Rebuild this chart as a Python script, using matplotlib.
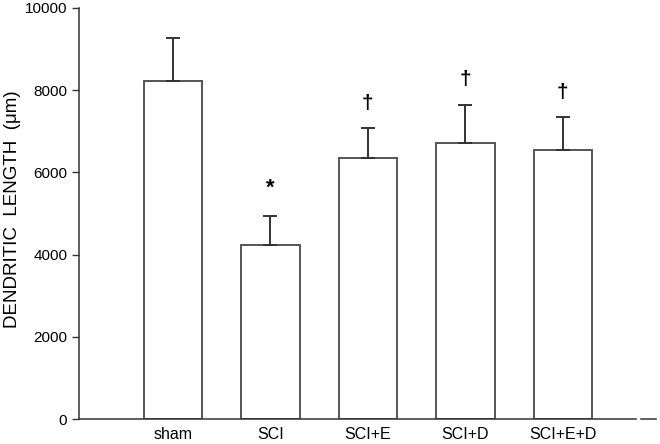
import matplotlib
matplotlib.use("Agg")
import matplotlib.pyplot as plt

plt.rcParams['font.family'] = ['Liberation Sans', 'DejaVu Sans']

# groups and measurements (dendritic length, um)
grupos = ["sham", "SCI", "SCI+E", "SCI+D", "SCI+E+D"]
medias = [8225, 4225, 6355, 6705, 6550]
erros = [1055, 710, 725, 945, 795]
marcas = ["", "*", "\u2020", "\u2020", "\u2020"]

fig = plt.figure(figsize=(6.6, 4.44), dpi=100)
ax = fig.add_axes([0.1197, 0.0563, 0.8439, 0.9257])

x = list(range(len(grupos)))
ax.bar(x, medias, width=0.6, color="white", edgecolor="#555555", linewidth=1.4, zorder=2)
ax.errorbar(x, medias, yerr=[[0] * len(erros), erros], fmt="none", ecolor="#333333",
            elinewidth=1.4, capsize=4.7, capthick=1.4, zorder=3)

# significance marks above error bars
for i in x:
    if marcas[i] == "*":
        ax.text(i, medias[i] + erros[i] + 680, marcas[i], ha="center", va="center",
                fontsize=16, fontweight="bold")
    elif marcas[i]:
        ax.text(i, medias[i] + erros[i] + 600, marcas[i], ha="center", va="center",
                fontsize=15, fontweight="bold")

ax.set_xlim(-0.964, 4.75)
ax.set_ylim(0, 10000)
ax.set_yticks([0, 2000, 4000, 6000, 8000, 10000])
ax.set_xticks(x)
ax.set_xticklabels(grupos, fontsize=11.5)
ax.tick_params(axis="x", length=0, pad=6)
ax.tick_params(axis="y", length=5, width=1, labelsize=11, color="#333333")
ax.set_ylabel("DENDRITIC  LENGTH  (\u03bcm)", fontsize=13.5)
ax.yaxis.set_label_coords(-0.104, 0.51)

for lado in ["top", "right"]:
    ax.spines[lado].set_visible(False)
for lado in ["left", "bottom"]:
    ax.spines[lado].set_color("#333333")
    ax.spines[lado].set_linewidth(1.1)

# small dash after the broken x axis
ax.plot([4.80, 4.96], [0, 0], color="#333333", linewidth=1.1, clip_on=False)

fig.savefig("out.png", dpi=100)
